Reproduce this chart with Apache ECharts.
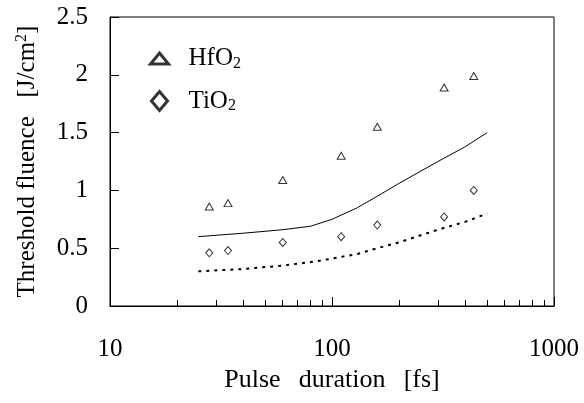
<!DOCTYPE html>
<html>
<head>
<meta charset="utf-8">
<script src="https://cdn.jsdelivr.net/npm/echarts@6/dist/echarts.min.js"></script>
<style>
  html, body { margin: 0; padding: 0; background: #fff; }
  #chart { width: 584px; height: 403px; }
</style>
</head>
<body>
<div id="chart"></div>
<script>
// measured points (pulse duration in fs)
let pulse = [28, 34, 60, 110, 160, 320, 435];
let hfo2 = [0.86, 0.89, 1.09, 1.30, 1.55, 1.89, 1.99];
let tio2 = [0.46, 0.48, 0.55, 0.60, 0.70, 0.77, 1.00];

// model curves
let fitX = [25, 40, 60, 80, 100, 130, 160, 200, 300, 400, 500];
let fitHf = [0.60, 0.63, 0.66, 0.69, 0.75, 0.85, 0.95, 1.06, 1.25, 1.38, 1.50];
let fitTi = [0.30, 0.32, 0.35, 0.38, 0.41, 0.45, 0.50, 0.55, 0.66, 0.73, 0.80];

let yTicks = [0, 0.5, 1, 1.5, 2, 2.5];
let xMinorTicks = [20, 30, 40, 50, 60, 70, 80, 90, 200, 300, 400, 500, 600, 700, 800, 900];

const FONT = 'Liberation Serif, Times New Roman, serif';
const GRID = { left: 110, right: 30, top: 17, bottom: 97 };

function pairs(xs, ys) {
  return xs.map((x, i) => [x, ys[i]]);
}

let myChart = echarts.init(document.getElementById('chart'));
let option = {
  animation: false,
  backgroundColor: '#fff',
  textStyle: { fontFamily: FONT, color: '#000' },
  grid: [
    Object.assign({ show: true, borderColor: '#000', borderWidth: 1 }, GRID),
    Object.assign({ show: false }, GRID)   // helper grid, only for log minor ticks
  ],
  legend: {
    orient: 'vertical',
    left: 149, top: 46,
    padding: 0,
    itemWidth: 18, itemHeight: 19,
    itemGap: 17,
    symbolKeepAspect: true,
    data: [
      { name: 'HfO2', icon: 'path://M9,0L18,11L0,11Z',
        itemStyle: { color: '#fff', borderColor: '#000', borderWidth: 3 } },
      { name: 'TiO2', icon: 'path://M8,0L16,9.5L8,19L0,9.5Z',
        itemStyle: { color: '#fff', borderColor: '#000', borderWidth: 3 } }
    ],
    formatter: function (name) {
      return name.slice(0, -1) + '{s|2}';
    },
    textStyle: {
      fontFamily: FONT, fontSize: 25, color: '#000', padding: [0, 0, 0, 15],
      rich: {
        s: { fontFamily: FONT, fontSize: 16, color: '#000', verticalAlign: 'bottom', padding: [10, 0, 0, 0] }
      }
    }
  },
  xAxis: [
    {
      type: 'log', logBase: 10, min: 10, max: 1000, gridIndex: 0,
      name: 'Pulse  \u2009duration  \u2009[fs]',
      nameLocation: 'middle', nameGap: 60,
      nameTextStyle: { fontFamily: FONT, fontSize: 26, color: '#000' },
      axisLine: { show: true, lineStyle: { color: '#000', width: 1 } },
      axisTick: { show: true, inside: true, length: 9, lineStyle: { color: '#000' } },
      minorTick: { show: false },
      splitLine: { show: false },
      axisLabel: {
        fontFamily: FONT, fontSize: 25, color: '#000', margin: 31,
        formatter: function (v) { return String(v); }
      }
    },
    {
      type: 'value', gridIndex: 1, min: 1, max: 3,
      axisLine: { show: false },
      axisLabel: { show: false },
      splitLine: { show: false },
      axisTick: {
        show: true, inside: true, length: 6, lineStyle: { color: '#000' },
        customValues: xMinorTicks.map(v => Math.log10(v))
      }
    }
  ],
  yAxis: [
    {
      type: 'value', gridIndex: 0, min: yTicks[0], max: yTicks[yTicks.length - 1], interval: 0.5,
      name: 'Threshold fluence   [J/cm{sup|2}]',
      nameLocation: 'middle', nameGap: 70, nameRotate: 90,
      nameTextStyle: {
        fontFamily: FONT, fontSize: 25, color: '#000',
        rich: { sup: { fontFamily: FONT, fontSize: 16, color: '#000', verticalAlign: 'top', padding: [0, 0, 10, 0] } }
      },
      axisLine: { show: true, lineStyle: { color: '#000', width: 1 } },
      axisTick: { show: true, inside: true, length: 9, lineStyle: { color: '#000' } },
      splitLine: { show: false },
      axisLabel: { fontFamily: FONT, fontSize: 25, color: '#000', margin: 22 }
    },
    {
      type: 'value', gridIndex: 1, min: 0, max: 1, show: false
    }
  ],
  series: [
    {
      name: 'HfO2', type: 'scatter', symbol: 'triangle', symbolSize: [8, 7],
      itemStyle: { color: '#fff', borderColor: '#000', borderWidth: 1 },
      data: pairs(pulse, hfo2), z: 5
    },
    {
      name: 'TiO2', type: 'scatter', symbol: 'diamond', symbolSize: [7, 8],
      itemStyle: { color: '#fff', borderColor: '#000', borderWidth: 1 },
      data: pairs(pulse, tio2), z: 5
    },
    {
      name: 'HfO2 model', type: 'line', showSymbol: false, smooth: false,
      lineStyle: { color: '#000', width: 1 },
      data: pairs(fitX, fitHf)
    },
    {
      name: 'TiO2 model', type: 'line', showSymbol: false, smooth: false,
      lineStyle: { color: '#000', width: 2, type: [3, 5] },
      data: pairs(fitX, fitTi)
    }
  ]
};
myChart.setOption(option);
</script>
</body>
</html>
